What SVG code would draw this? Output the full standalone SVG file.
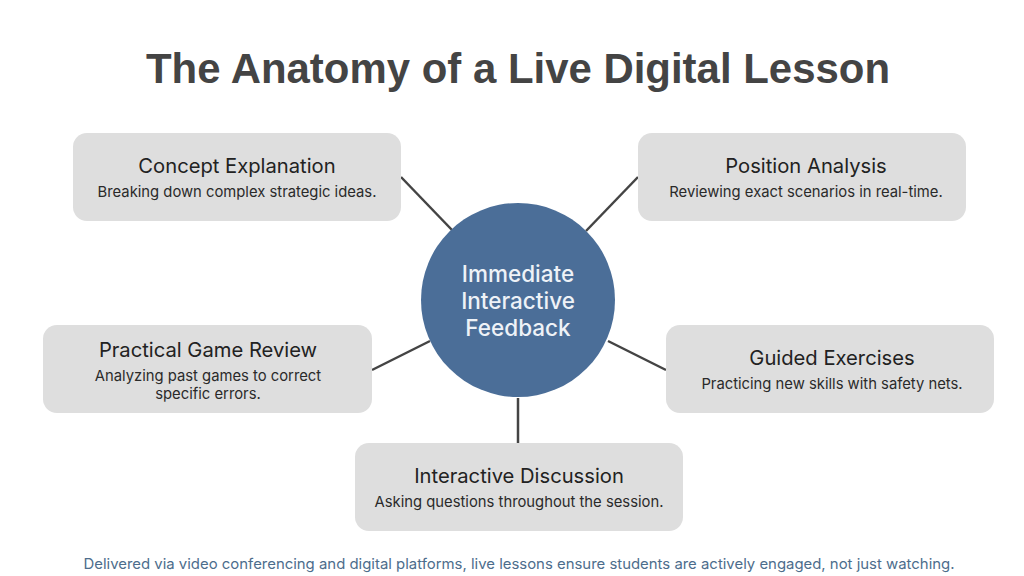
<svg xmlns="http://www.w3.org/2000/svg" width="1024" height="576" viewBox="0 0 1024 576">
<style>
.box{fill:#dedede;}
.t{font-family:Inter,"Liberation Sans",sans-serif;font-size:20.2px;fill:#222;text-anchor:middle;}
.s{font-family:Inter,"Liberation Sans",sans-serif;font-size:14.8px;fill:#2a2a2a;text-anchor:middle;}
.c{font-family:Inter,"Liberation Sans",sans-serif;font-size:22.5px;font-weight:500;fill:#eef2f7;text-anchor:middle;}
.ln{stroke:#444;stroke-width:2.5;fill:none;}
</style>
<rect width="1024" height="576" fill="#ffffff"/>
<text x="518" y="83" font-family="Liberation Sans, Arial, sans-serif" font-weight="bold" font-size="42" fill="#444" text-anchor="middle" textLength="744" lengthAdjust="spacingAndGlyphs">The Anatomy of a Live Digital Lesson</text>
<g id="connectors">
<line class="ln" x1="401" y1="177" x2="452" y2="230"/>
<line class="ln" x1="638" y1="177" x2="586" y2="231"/>
<line class="ln" x1="372" y1="370" x2="430" y2="341"/>
<line class="ln" x1="666" y1="370" x2="608" y2="341"/>
<line class="ln" x1="518" y1="398" x2="518" y2="443"/>
</g>
<g id="center">
<circle cx="518" cy="300" r="97" fill="#4b6e98"/>
<text class="c" x="518" y="282">Immediate</text>
<text class="c" x="518" y="309">Interactive</text>
<text class="c" x="518" y="336">Feedback</text>
</g>
<g id="concept">
<rect class="box" x="73" y="133" width="328" height="88" rx="14"/>
<text class="t" x="237" y="173">Concept Explanation</text>
<text class="s" x="237" y="197">Breaking down complex strategic ideas.</text>
</g>
<g id="position">
<rect class="box" x="638" y="133" width="328" height="88" rx="14"/>
<text class="t" x="806" y="173">Position Analysis</text>
<text class="s" x="806" y="197">Reviewing exact scenarios in real-time.</text>
</g>
<g id="practical">
<rect class="box" x="43" y="325" width="329" height="88" rx="14"/>
<text class="t" x="208" y="357">Practical Game Review</text>
<text class="s" x="208" y="381">Analyzing past games to correct</text>
<text class="s" x="208" y="399">specific errors.</text>
</g>
<g id="guided">
<rect class="box" x="666" y="325" width="328" height="88" rx="14"/>
<text class="t" x="832" y="365">Guided Exercises</text>
<text class="s" x="832" y="389">Practicing new skills with safety nets.</text>
</g>
<g id="discussion">
<rect class="box" x="355" y="443" width="328" height="88" rx="14"/>
<text class="t" x="519" y="483">Interactive Discussion</text>
<text class="s" x="519" y="507">Asking questions throughout the session.</text>
</g>
<text x="519" y="569" font-family="Inter, 'Liberation Sans', sans-serif" font-size="14.5" fill="#4d6d8c" text-anchor="middle" textLength="871" lengthAdjust="spacingAndGlyphs">Delivered via video conferencing and digital platforms, live lessons ensure students are actively engaged, not just watching.</text>
</svg>
